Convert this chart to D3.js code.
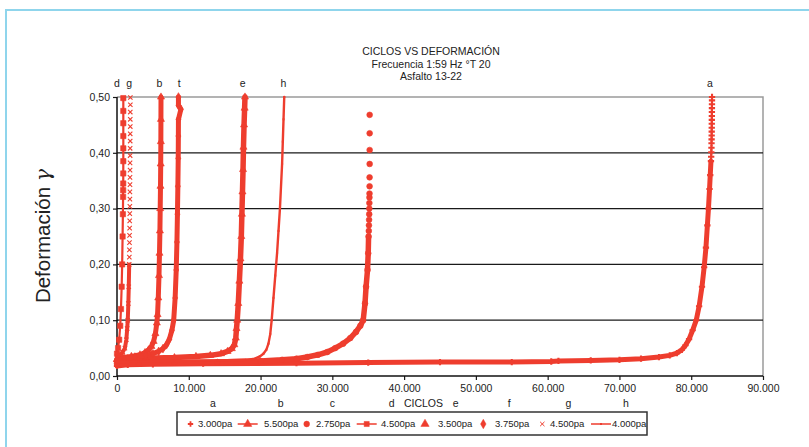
<!DOCTYPE html>
<html>
<head>
<meta charset="utf-8">
<script src="https://cdn.jsdelivr.net/npm/d3@7"></script>
<style>
  body { margin: 0; background: #fff; }
  svg { display: block; }
  text { font-family: "Liberation Sans", Arial, Helvetica, sans-serif; fill: #222; }
</style>
</head>
<body>
<svg id="chart" width="809" height="447"></svg>
<script>
// ---- chart text ----
const chartTitle = ["CICLOS VS DEFORMACIÓN", "Frecuencia 1:59 Hz °T 20", "Asfalto 13-22"];
const yAxisTitle = "Deformación ";
const yAxisSymbol = "γ";

// ---- axis ticks ----
const xTicks = [0, 10000, 20000, 30000, 40000, 50000, 60000, 70000, 80000, 90000];
const yTicks = [0, 0.1, 0.2, 0.3, 0.4, 0.5];

// ---- series (cycles, strain) ----
const seriesNames = ["3.000pa", "5.500pa", "2.750pa", "4.500pa", "3.500pa", "3.750pa", "4.500pa", "4.000pa"];

const serieA = [[0,0.018],[1500,0.020],[5000,0.021],[12000,0.022],[25000,0.023],[35000,0.024],[45000,0.025],[55000,0.025],[60500,0.026],[61500,0.027],[66000,0.028],[70000,0.029],[73000,0.031],[75500,0.034],[77000,0.037],[78000,0.041],[78700,0.047],[79200,0.055],[79700,0.066],[80200,0.082],[80700,0.100],[81100,0.125],[81500,0.160],[81800,0.195],[82050,0.230],[82250,0.270],[82400,0.300],[82550,0.335],[82650,0.360],[82750,0.385],[82780,0.393],[82800,0.401],[82820,0.409],[82830,0.417],[82840,0.424],[82850,0.431],[82855,0.438],[82860,0.445],[82865,0.452],[82870,0.459],[82875,0.466],[82880,0.473],[82885,0.480],[82890,0.487],[82895,0.494],[82900,0.500]];

const serieB = [[0,0.030],[800,0.033],[2000,0.035],[3200,0.038],[3900,0.042],[4400,0.047],[4800,0.053],[5100,0.062],[5350,0.076],[5550,0.095],[5650,0.110],[5750,0.140],[5850,0.180],[5920,0.220],[5980,0.260],[6020,0.300],[6060,0.340],[6090,0.380],[6110,0.420],[6120,0.460],[6130,0.500]];

const serieC = [[0,0.022],[3000,0.023],[8000,0.024],[14000,0.025],[20000,0.027],[23000,0.029],[25000,0.031],[26500,0.034],[28000,0.038],[29300,0.043],[30400,0.050],[31500,0.058],[32500,0.068],[33300,0.079],[33900,0.090],[34300,0.100],[34550,0.130],[34700,0.160],[34900,0.190],[35000,0.220],[35050,0.250],[35080,0.260],[35100,0.270],[35120,0.280],[35140,0.290],[35150,0.300],[35160,0.310],[35170,0.320],[35180,0.327],[35190,0.340],[35190,0.356],[35200,0.380],[35200,0.405],[35200,0.435],[35200,0.468]];

const serieD = [[0,0.040],[150,0.050],[300,0.065],[450,0.090],[550,0.120],[650,0.160],[720,0.200],[780,0.250],[820,0.290],[850,0.321],[860,0.333],[870,0.345],[875,0.363],[880,0.385],[880,0.408],[880,0.430],[880,0.453],[880,0.475],[880,0.498]];

const serieE = [[0,0.029],[1500,0.031],[4000,0.032],[8000,0.033],[11000,0.035],[13000,0.037],[14500,0.040],[15400,0.044],[16000,0.049],[16350,0.056],[16550,0.068],[16650,0.085],[16750,0.100],[16900,0.130],[17050,0.170],[17200,0.210],[17320,0.250],[17400,0.290],[17480,0.330],[17560,0.370],[17620,0.410],[17700,0.450],[17780,0.480],[17830,0.500]];

const serieF = [[0,0.028],[1000,0.031],[2500,0.034],[4000,0.037],[5000,0.040],[5800,0.044],[6400,0.049],[6900,0.056],[7300,0.066],[7650,0.082],[7900,0.100],[8100,0.140],[8250,0.190],[8350,0.240],[8420,0.290],[8480,0.340],[8530,0.390],[8550,0.430],[8560,0.460],[8900,0.478],[8560,0.485],[8560,0.500]];

const serieG = [[0,0.035],[400,0.038],[800,0.043],[1100,0.050],[1300,0.065],[1420,0.085],[1500,0.100],[1580,0.130],[1640,0.160],[1700,0.200],[1720,0.213],[1730,0.226],[1740,0.239],[1750,0.252],[1760,0.265],[1770,0.278],[1780,0.291],[1790,0.304],[1800,0.317],[1800,0.330],[1810,0.343],[1810,0.356],[1820,0.369],[1820,0.382],[1830,0.395],[1830,0.408],[1840,0.421],[1840,0.434],[1850,0.447],[1850,0.460],[1850,0.473],[1860,0.486],[1860,0.499]];

const serieH = [[0,0.025],[3000,0.026],[8000,0.027],[14000,0.028],[18000,0.029],[19200,0.031],[19900,0.035],[20400,0.040],[20800,0.047],[21100,0.058],[21350,0.075],[21550,0.100],[21800,0.140],[22050,0.180],[22300,0.220],[22500,0.260],[22700,0.300],[22850,0.340],[23000,0.380],[23100,0.420],[23200,0.460],[23300,0.500]];

// ---- curve letters ----
const topLetters = ["d", "g", "b", "t", "e", "h", "a"];
const topLetterCycles = [0, 1700, 5900, 8650, 17500, 23200, 82600];
const bottomLabels = ["a", "b", "c", "d", "CICLOS", "e", "f", "g", "h"];
const bottomLabelCycles = [13350, 22800, 30000, 38250, 42700, 47200, 54650, 62900, 70900];

// ---- drawing ----
const RED = "#ee3d2e";
const W = 809, H = 447;
const plot = { left: 117, right: 763, top: 97, bottom: 376 };

const svg = d3.select("#chart");
const x = d3.scaleLinear().domain([0, 90000]).range([plot.left, plot.right]);
const y = d3.scaleLinear().domain([0, 0.5]).range([plot.bottom, plot.top]);

const locale = d3.formatLocale({ decimal: ",", thousands: ".", grouping: [3], currency: ["", ""] });
const fmtX = locale.format(",");
const fmtY = locale.format(".2f");

// page frame
svg.append("path")
  .attr("d", `M6,${H} V10 H${W}`)
  .attr("fill", "none").attr("stroke", "#8fd5ec").attr("stroke-width", 2);

// title
svg.append("g").selectAll("text").data(chartTitle).join("text")
  .attr("x", 431).attr("y", (d, i) => 55 + i * 12.5)
  .attr("text-anchor", "middle").attr("font-size", 10.5)
  .text(d => d);

// plot frame (top and right in grey)
svg.append("path")
  .attr("d", `M${plot.left},${y(0.5)} H${plot.right} V${plot.bottom}`)
  .attr("fill", "none").attr("stroke", "#9a9a9a").attr("stroke-width", 1.5);

// horizontal gridlines
svg.append("g").selectAll("line").data(yTicks.filter(v => v > 0 && v < 0.5)).join("line")
  .attr("x1", plot.left).attr("x2", plot.right)
  .attr("y1", d => y(d)).attr("y2", d => y(d))
  .attr("stroke", "#1a1a1a").attr("stroke-width", 1.2);

// axes
const yAxis = svg.append("g").attr("transform", `translate(${plot.left},0)`)
  .call(d3.axisLeft(y).tickValues(yTicks).tickFormat(fmtY).tickSize(4).tickPadding(3));
const xAxis = svg.append("g").attr("transform", `translate(0,${plot.bottom})`)
  .call(d3.axisBottom(x).tickValues(xTicks).tickFormat(fmtX).tickSize(4).tickPadding(5));
[yAxis, xAxis].forEach(g => {
  g.select(".domain").remove();
  g.selectAll(".tick line").attr("stroke", "#1a1a1a").attr("stroke-width", 1.2);
  g.selectAll(".tick text").attr("font-size", 10.5).attr("fill", "#222")
    .style("font-family", '"Liberation Sans", Arial, sans-serif');
});
svg.append("line").attr("x1", plot.left).attr("x2", plot.left)
  .attr("y1", y(0.5)).attr("y2", plot.bottom).attr("stroke", "#111").attr("stroke-width", 1.5);
svg.append("line").attr("x1", plot.left).attr("x2", plot.right)
  .attr("y1", plot.bottom).attr("y2", plot.bottom).attr("stroke", "#111").attr("stroke-width", 1.5);

// y title with the strain symbol
const yTitle = svg.append("text")
  .attr("transform", `translate(50,236) rotate(-90)`)
  .attr("text-anchor", "middle").attr("font-size", 20.5).attr("fill", "#222");
yTitle.append("tspan").text(yAxisTitle);
yTitle.append("tspan").style("font-family", '"DejaVu Serif", serif').style("font-style", "italic")
  .text(yAxisSymbol);

// series styling
const seriesStyle = [
  { data: serieA, symbol: d3.symbolCross,    size: 22, fill: true,  stroke: false, lineWidth: 5,   denseTo: 0.385 },
  { data: serieB, symbol: d3.symbolTriangle, size: 22, fill: true,  stroke: true,  lineWidth: 5,   denseTo: 0.5 },
  { data: serieC, symbol: d3.symbolCircle,   size: 26, fill: true,  stroke: true,  lineWidth: 5.5, denseTo: 0.25 },
  { data: serieD, symbol: d3.symbolSquare,   size: 28, fill: true,  stroke: true,  lineWidth: 2.2, denseTo: 0.5 },
  { data: serieE, symbol: d3.symbolTriangle, size: 22, fill: true,  stroke: true,  lineWidth: 5.5, denseTo: 0.5 },
  { data: serieF, symbol: d3.symbolDiamond,  size: 22, fill: true,  stroke: true,  lineWidth: 5,   denseTo: 0.5 },
  { data: serieG, symbol: d3.symbolTimes,    size: 14, fill: false, stroke: true,  lineWidth: 4,   denseTo: 0.2 },
  { data: serieH, symbol: d3.symbolSquare,   size: 4,  fill: true,  stroke: false, lineWidth: 2.4, denseTo: 0.5 }
];

const line = d3.line().x(d => x(d[0])).y(d => y(d[1]));
const seriesG = svg.append("g");
seriesStyle.forEach(s => {
  seriesG.append("path")
    .attr("d", line(s.data.filter(d => d[1] <= s.denseTo)))
    .attr("fill", "none").attr("stroke", RED)
    .attr("stroke-width", s.lineWidth).attr("stroke-linejoin", "round").attr("stroke-linecap", "round");
  seriesG.append("g").selectAll("path").data(s.data).join("path")
    .attr("transform", d => `translate(${x(d[0])},${y(d[1])})`)
    .attr("d", d3.symbol().type(s.symbol).size(s.size)())
    .attr("fill", s.fill ? RED : "none")
    .attr("stroke", s.stroke ? RED : "none").attr("stroke-width", s.fill ? 0.6 : 1.1);
});

// curve letters above the plot
svg.append("g").selectAll("text").data(topLetters).join("text")
  .attr("x", (d, i) => x(topLetterCycles[i])).attr("y", 87)
  .attr("text-anchor", "middle").attr("font-size", 10.5)
  .text(d => d);

// letters under the x axis
svg.append("g").selectAll("text").data(bottomLabels).join("text")
  .attr("x", (d, i) => x(bottomLabelCycles[i])).attr("y", 407)
  .attr("text-anchor", "middle").attr("font-size", 10.5)
  .text(d => d);

// legend
const legend = svg.append("g");
legend.append("rect").attr("x", 177).attr("y", 412).attr("width", 470).attr("height", 23)
  .attr("fill", "#fff").attr("stroke", "#333").attr("stroke-width", 1.5);
const legendSymbolX = [190.5, 247.7, 306.7, 366.7, 425, 483.3, 542.3, 601];
const legendTextX = [198, 264, 316, 381, 438, 495, 550, 612];
const legendHasLine = [false, true, false, true, false, false, false, true];
const legendSize = [16, 30, 26, 26, 30, 26, 14, 4];
const ly = 424;
seriesNames.forEach((name, i) => {
  const s = seriesStyle[i];
  if (legendHasLine[i]) {
    legend.append("line").attr("x1", legendSymbolX[i] - 10).attr("x2", legendSymbolX[i] + 10)
      .attr("y1", ly).attr("y2", ly).attr("stroke", RED).attr("stroke-width", 1.5);
  }
  legend.append("path")
    .attr("transform", `translate(${legendSymbolX[i]},${ly})`)
    .attr("d", d3.symbol().type(s.symbol).size(legendSize[i])())
    .attr("fill", s.fill ? RED : "none").attr("stroke", s.stroke ? RED : "none")
    .attr("stroke-width", s.fill ? 0.5 : 1);
  legend.append("text").attr("x", legendTextX[i]).attr("y", ly + 3.3)
    .attr("font-size", 9.5).text(name);
});
</script>
</body>
</html>
